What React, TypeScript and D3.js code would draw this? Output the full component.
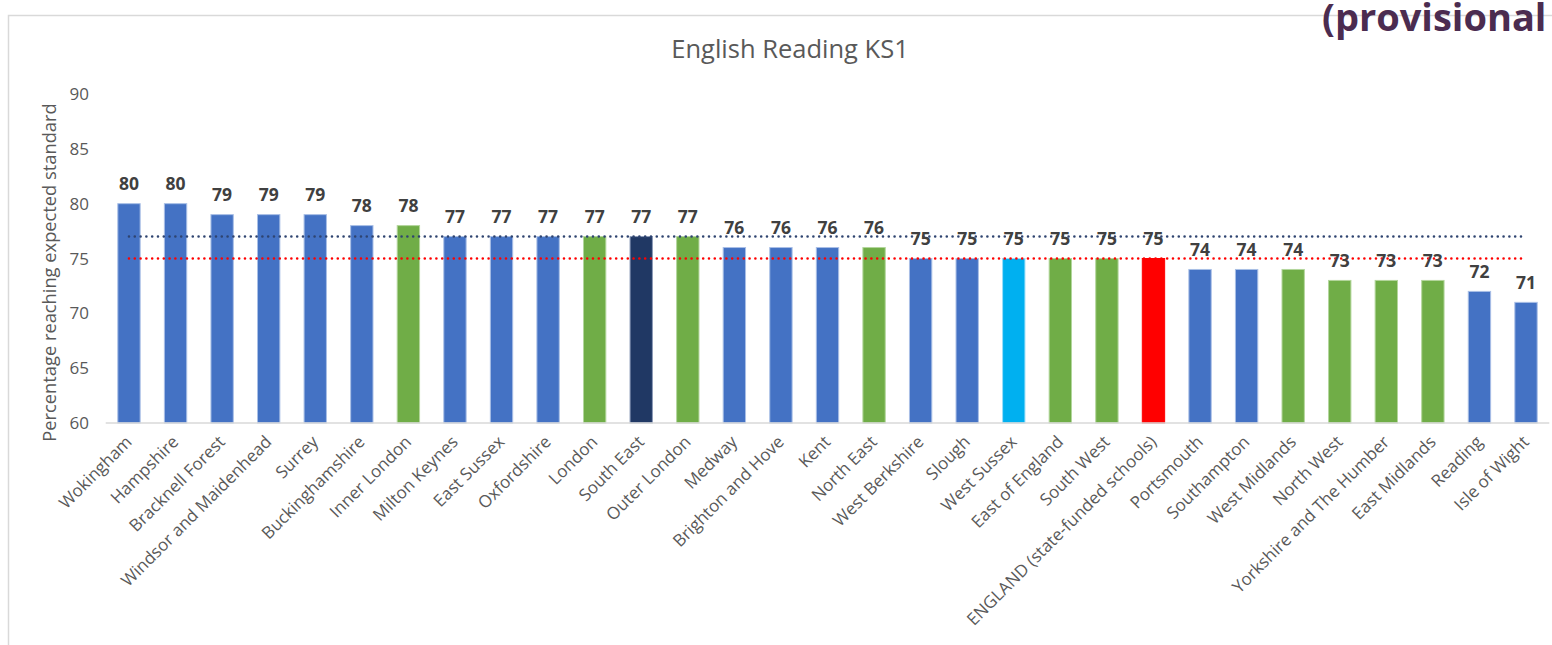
import React from "react";
import * as d3 from "d3";

const categories = [
  "Wokingham", "Hampshire", "Bracknell Forest", "Windsor and Maidenhead", "Surrey",
  "Buckinghamshire", "Inner London", "Milton Keynes", "East Sussex", "Oxfordshire",
  "London", "South East", "Outer London", "Medway", "Brighton and Hove", "Kent",
  "North East", "West Berkshire", "Slough", "West Sussex", "East of England",
  "South West", "ENGLAND (state-funded schools)", "Portsmouth", "Southampton",
  "West Midlands", "North West", "Yorkshire and The Humber", "East Midlands",
  "Reading", "Isle of Wight",
];
const values = [80, 80, 79, 79, 79, 78, 78, 77, 77, 77, 77, 77, 77, 76, 76, 76, 76, 75, 75, 75, 75, 75, 75, 74, 74, 74, 73, 73, 73, 72, 71];
// group of each bar: la = local authority, rg = region, se = South East, ws = West Sussex, en = England
const groups = ["la", "la", "la", "la", "la", "la", "rg", "la", "la", "la", "rg", "se", "rg", "la", "la", "la", "rg", "la", "la", "ws", "rg", "rg", "en", "la", "la", "rg", "rg", "rg", "rg", "la", "la"];
const yTicks = [60, 65, 70, 75, 80, 85, 90];
const southEastAverage = 77;
const englandAverage = 75;

const fills: Record<string, string> = {
  la: "#4472c4",
  rg: "#70ad47",
  se: "#203864",
  ws: "#00b0f0",
  en: "#ff0000",
};
const strokes: Record<string, string> = {
  la: "#a9bfe6",
  rg: "#b3d69c",
  se: "#8c9bb8",
  ws: "#99def9",
  en: "#ff0000",
};

const FONT = "'Open Sans', sans-serif";

export default function App() {
  const x = d3.scaleBand<string>().domain(categories).range([105.7, 1549.3]).paddingInner(0.52).paddingOuter(0.26);
  const y = d3.scaleLinear().domain([60, 90]).range([423, 94]);
  const bw = x.bandwidth();
  const first = (x(categories[0]) as number) + bw / 2;
  const last = (x(categories[categories.length - 1]) as number) + bw / 2;

  return (
    <svg width={1552} height={645} style={{ position: "absolute", left: 0, top: 0, background: "#fff" }} fontFamily={FONT}>
      <rect x={8.5} y={15.5} width={1600} height={700} fill="#fff" stroke="#d9d9d9" strokeWidth={1.5} />
      <text x={1322} y={31} fontSize={38} fontWeight={700} fill="#4b2c50">(provisional</text>
      <text x={790} y={58} textAnchor="middle" fontSize={25.5} fill="#595959">English Reading KS1</text>

      {yTicks.map((t) => (
        <text key={t} x={89} y={y(t)} dy="0.36em" textAnchor="end" fontSize={17} fill="#595959">{t}</text>
      ))}
      <text transform={`translate(49,${(y(60) + y(90)) / 2 + 14}) rotate(-90)`} textAnchor="middle" dy="0.36em" fontSize={18.3} fill="#595959">
        Percentage reaching expected standard
      </text>

      {categories.map((c, i) => (
        <rect key={c} x={x(c)} y={y(values[i])} width={bw} height={y(60) - y(values[i])}
          fill={fills[groups[i]]} stroke={strokes[groups[i]]} strokeWidth={1} />
      ))}
      <line x1={105.7} x2={1549.3} y1={423} y2={423} stroke="#d9d9d9" strokeWidth={1.5} />

      <line x1={first} x2={last} y1={y(southEastAverage)} y2={y(southEastAverage)} stroke="#2f4470" strokeWidth={2.6} strokeDasharray="0 5.8" strokeLinecap="round" />
      <line x1={first} x2={last} y1={y(englandAverage)} y2={y(englandAverage)} stroke="#ff0000" strokeWidth={2.6} strokeDasharray="0 5.8" strokeLinecap="round" />

      {categories.map((c, i) => (
        <text key={c} x={(x(c) as number) + bw / 2} y={y(values[i]) - 20} dy="0.36em" textAnchor="middle" fontSize={17.5} fontWeight={700} fill="#404040">{values[i]}</text>
      ))}

      {categories.map((c, i) => {
        const cx = (x(c) as number) + bw / 2 + 4;
        return (
          <text key={c} transform={`translate(${cx},${443}) rotate(-45)`} textAnchor="end" fontSize={17} fill="#595959">{c}</text>
        );
      })}
    </svg>
  );
}
